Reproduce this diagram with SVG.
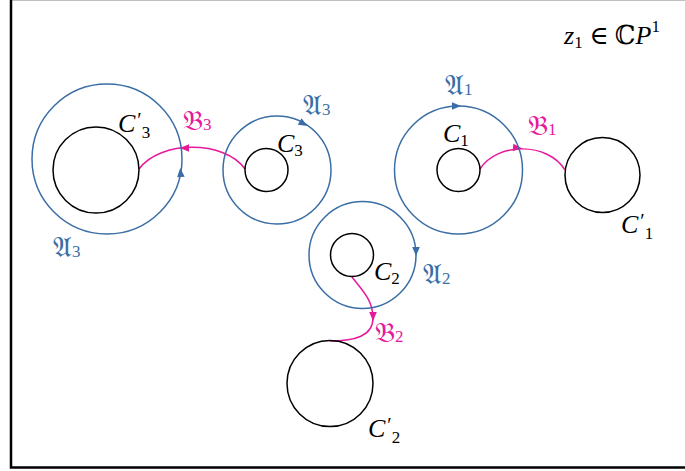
<svg xmlns="http://www.w3.org/2000/svg" width="685" height="471" viewBox="0 0 685 471">
<defs>
<style>
.blk{fill:none;stroke:#000;stroke-width:1.5}
.blu{fill:none;stroke:#3a6ea5;stroke-width:1.5}
.mag{fill:none;stroke:#e6199b;stroke-width:1.5}
.t{font-family:"Liberation Serif","DejaVu Serif",serif;font-size:26px;font-style:italic;fill:#000}
.s{font-family:"Liberation Serif",serif;font-size:17px;font-style:normal}
.pr{font-family:"Liberation Serif",serif;font-size:20px;font-style:normal}
.fb{font-family:"DejaVu Serif","DejaVu Sans","Noto Sans",serif;font-size:28px;fill:#3a6ea5}
.fm{font-family:"DejaVu Serif","DejaVu Sans","Noto Sans",serif;font-size:28px;fill:#e6199b}
.sub{font-family:"Liberation Serif",serif;font-size:17px}
</style>
<path id="ah" d="M4,0 L-5,-3.8 L-5,3.8 Z"/>
</defs>
<rect x="11" y="-1" width="700" height="468.5" fill="#fff" stroke="#000" stroke-width="2.5"/>
<g id="connectors">
<path class="mag" d="M245,169 C225,140 160,140 139,169"/>
<path class="mag" d="M480,169 C497,142 548,142 565,170"/>
<path class="mag" d="M352,277 C362,290 373,300 373,318 C373,336 355,341 330,341"/>
<use href="#ah" fill="#e6199b" transform="translate(184,148) rotate(180)"/>
<use href="#ah" fill="#e6199b" transform="translate(518,148) rotate(5)"/>
<use href="#ah" fill="#e6199b" transform="translate(373,317) rotate(90)"/>
</g>
<g id="A3big"><circle class="blu" cx="107" cy="159" r="75"/><use href="#ah" fill="#3a6ea5" transform="translate(180.5,172) rotate(-95)"/></g>
<g id="A3small"><circle class="blu" cx="277" cy="170" r="54"/><use href="#ah" fill="#3a6ea5" transform="translate(304,124) rotate(30)"/></g>
<g id="A1"><circle class="blu" cx="458.5" cy="170" r="64"/><use href="#ah" fill="#3a6ea5" transform="translate(457,106) rotate(0)"/></g>
<g id="A2"><circle class="blu" cx="362.5" cy="255" r="53.5"/><use href="#ah" fill="#3a6ea5" transform="translate(416,252) rotate(90)"/></g>
<g id="C3p"><circle class="blk" cx="96" cy="170" r="43"/></g>
<g id="C3"><circle class="blk" cx="266.5" cy="170" r="21.5"/></g>
<g id="C1"><circle class="blk" cx="458.5" cy="170" r="21.5"/></g>
<g id="C1p"><circle class="blk" cx="602.5" cy="175" r="37.5"/></g>
<g id="C2"><circle class="blk" cx="352" cy="255" r="21.5"/></g>
<g id="C2p"><circle class="blk" cx="330" cy="383.5" r="43"/></g>
<g id="labels">
<text class="t" x="118" y="132">C<tspan class="pr" dx="2" dy="-5">′</tspan><tspan class="s" dy="11">3</tspan></text>
<text class="t" x="277" y="152">C<tspan class="s" dy="4">3</tspan></text>
<text class="t" x="443" y="142">C<tspan class="s" dy="4">1</tspan></text>
<text class="t" x="621" y="233">C<tspan class="pr" dx="2" dy="-5">′</tspan><tspan class="s" dy="11">1</tspan></text>
<text class="t" x="374" y="280">C<tspan class="s" dy="4">2</tspan></text>
<text class="t" x="368" y="437">C<tspan class="pr" dx="2" dy="-5">′</tspan><tspan class="s" dy="11">2</tspan></text>
<text class="fb" x="303" y="115">𝔄<tspan class="sub">3</tspan></text>
<text class="fb" x="53" y="257">𝔄<tspan class="sub">3</tspan></text>
<text class="fb" x="445" y="95">𝔄<tspan class="sub">1</tspan></text>
<text class="fb" x="423" y="284">𝔄<tspan class="sub">2</tspan></text>
<text class="fm" x="183" y="130">𝔅<tspan class="sub">3</tspan></text>
<text class="fm" x="528" y="135">𝔅<tspan class="sub">1</tspan></text>
<text class="fm" x="375" y="342">𝔅<tspan class="sub">2</tspan></text>
<text class="t" x="564" y="44">z<tspan class="s" dy="4">1</tspan><tspan font-style="normal" dy="-4"> ∈ ℂ</tspan>P<tspan class="s" dy="-12">1</tspan></text>
</g>
</svg>
